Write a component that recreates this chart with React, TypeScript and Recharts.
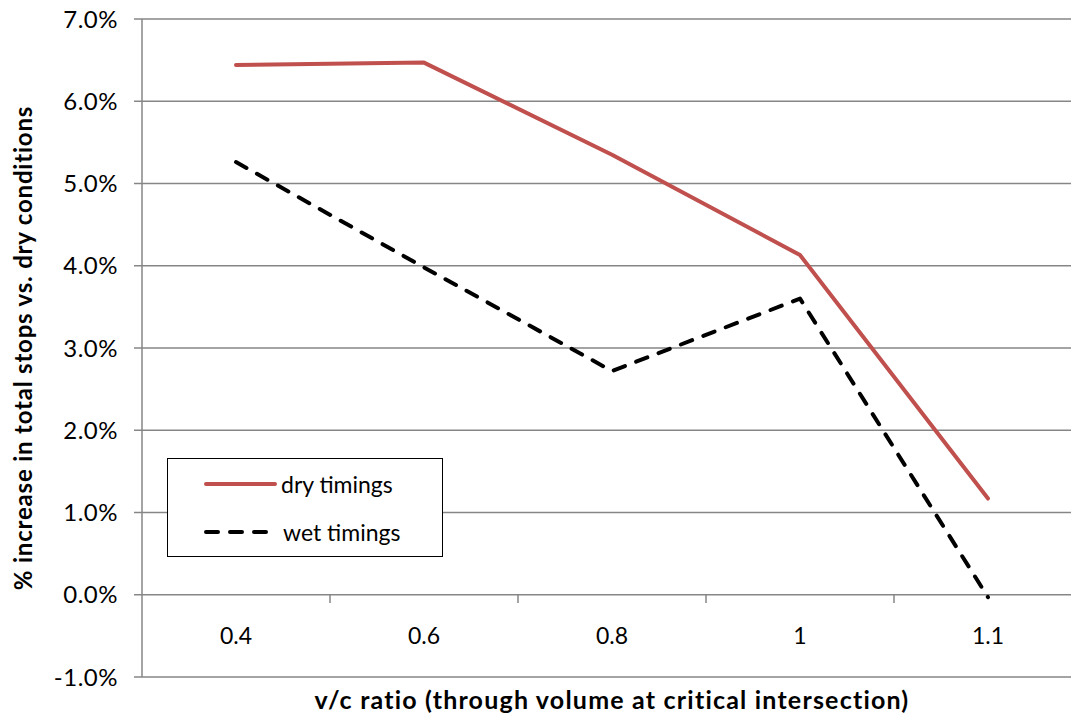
import { LineChart, Line, XAxis, YAxis, CartesianGrid, ReferenceLine } from 'recharts'

const categories = ['0.4', '0.6', '0.8', '1', '1.1']
const dryTimings = [6.44, 6.47, 5.35, 4.13, 1.17]
const wetTimings = [5.26, 3.98, 2.72, 3.6, -0.03]
const yTicks = [-1, 0, 1, 2, 3, 4, 5, 6, 7]

const FONT = 'Lato, "Open Sans", sans-serif'
const GRID = '#868686'
const DRY = '#C0504D'

const chartData = categories.map((c, i) => ({
  idx: i,
  name: c,
  dry: dryTimings[i],
  wet: wetTimings[i],
}))

// boundaries between categories, where the little tick marks sit on the 0% line
const boundaries = categories.slice(1).map((_, i) => i + 0.5)

const XTick = ({ x, y, payload }: any) => (
  <text x={x} y={y - 42} textAnchor="middle" dominantBaseline="central" fontSize={23} fill="#000" fontFamily={FONT}>
    {categories[payload.value]}
  </text>
)

const YTitle = ({ viewBox }: any) => {
  const cx = 22
  const cy = viewBox.y + viewBox.height / 2
  return (
    <text x={cx} y={cy} transform={`rotate(-90, ${cx}, ${cy})`} textAnchor="middle" dominantBaseline="central"
      fontSize={24} fontWeight="bold" letterSpacing={0.8} fill="#000" fontFamily={FONT}>
      % increase in total stops vs. dry conditions
    </text>
  )
}

const XTitle = ({ viewBox }: any) => {
  const cx = viewBox.x + viewBox.width / 2
  const cy = viewBox.y + 22
  return (
    <text x={cx} y={cy} textAnchor="middle" dominantBaseline="central"
      fontSize={25} fontWeight="bold" letterSpacing={1.2} fill="#000" fontFamily={FONT}>
      v/c ratio (through volume at critical intersection)
    </text>
  )
}

const LegendBox = () => (
  <div style={{ position: 'absolute', left: 167, top: 458, width: 276, height: 99, border: '1px solid #000', background: '#fff', fontFamily: FONT, fontSize: 23, boxSizing: 'border-box' }}>
    <div style={{ position: 'absolute', left: 0, top: 12, display: 'flex', alignItems: 'center', height: 26 }}>
      <svg width={113} height={10}><line x1={38} y1={5} x2={107} y2={5} stroke={DRY} strokeWidth={4} strokeLinecap="round" /></svg>
      <span>dry timings</span>
    </div>
    <div style={{ position: 'absolute', left: 0, top: 60, display: 'flex', alignItems: 'center', height: 26 }}>
      <svg width={115} height={10}><line x1={38} y1={5} x2={98} y2={5} stroke="#000" strokeWidth={4} strokeDasharray="12 12" strokeLinecap="round" /></svg>
      <span>wet timings</span>
    </div>
  </div>
)

export default function App() {
  return (
    <div style={{ position: 'absolute', left: 0, top: 0, width: 1071, height: 713, overflow: 'hidden', background: '#fff' }}>
      <LineChart width={1090} height={713} data={chartData} margin={{ top: 19, right: 8, left: 0, bottom: 0 }}>
        <CartesianGrid vertical={false} stroke={GRID} strokeWidth={1.5} />
        <XAxis
          dataKey="idx"
          type="number"
          domain={[-0.5, 4.5]}
          ticks={[0, 1, 2, 3, 4]}
          axisLine={false}
          tickLine={false}
          tickSize={0}
          tickMargin={0}
          height={36}
          tick={<XTick />}
          label={<XTitle />}
        />
        <YAxis
          type="number"
          domain={[-1, 7]}
          ticks={yTicks}
          width={142}
          tickFormatter={(v: number) => v.toFixed(1) + '%'}
          tick={{ fill: '#000', fontSize: 24, fontFamily: FONT, letterSpacing: 0.5 }}
          tickSize={8}
          tickMargin={16}
          tickLine={{ stroke: GRID, strokeWidth: 1.5 }}
          axisLine={{ stroke: GRID, strokeWidth: 1.5 }}
          label={<YTitle />}
        />
        {boundaries.map(b => (
          <ReferenceLine key={b} segment={[{ x: b, y: 0 }, { x: b, y: -0.1 }]} stroke={GRID} strokeWidth={1.5} />
        ))}
        <Line dataKey="dry" stroke={DRY} strokeWidth={4} dot={false} strokeLinecap="round" strokeLinejoin="round" isAnimationActive={false} />
        <Line dataKey="wet" stroke="#000" strokeWidth={4} strokeDasharray="12 12" dot={false} strokeLinecap="round" strokeLinejoin="round" isAnimationActive={false} />
      </LineChart>
      <LegendBox />
    </div>
  )
}
